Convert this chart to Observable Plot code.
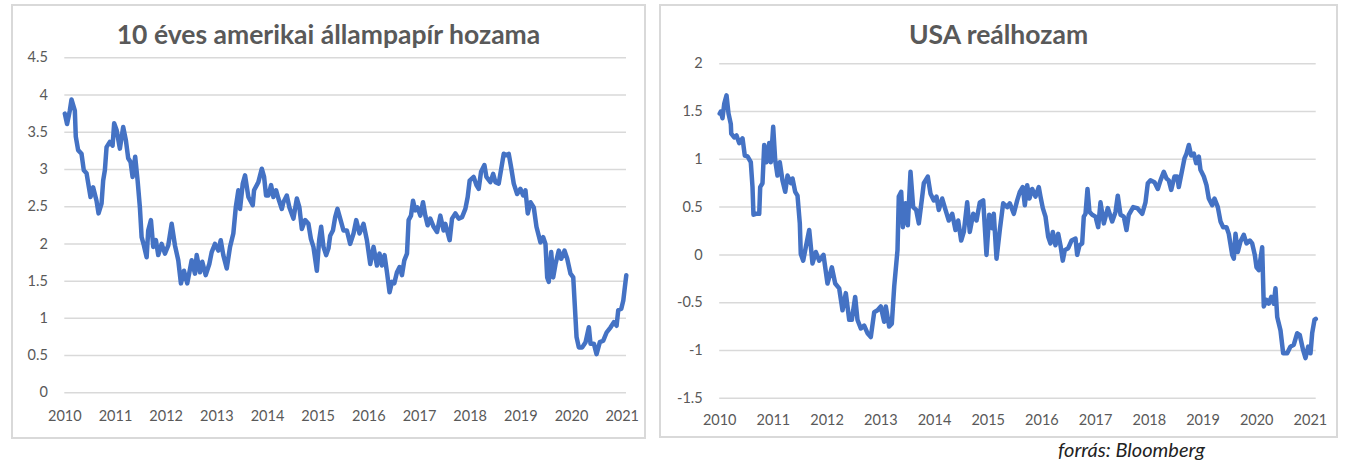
<!DOCTYPE html>
<html><head><meta charset="utf-8">
<script src="https://cdn.jsdelivr.net/npm/d3@7"></script>
<script src="https://cdn.jsdelivr.net/npm/@observablehq/plot@0.6"></script>
<style>
html,body{margin:0;padding:0;background:#fff}
body{width:1345px;height:465px;position:relative;overflow:hidden;font-family:Lato,sans-serif}
.panel{position:absolute;border:2px solid #d9d9d9;box-sizing:border-box;background:#fff}
.chart{position:absolute}
.title{position:absolute;text-align:center;font-weight:bold;color:#595959;font-size:26.5px;line-height:1.2;white-space:nowrap}
.caption{position:absolute;font-style:italic;color:#222;font-size:20px;line-height:1.2;white-space:nowrap}
</style></head>
<body>
<div class="panel" style="left:11px;top:4px;width:635px;height:435px"></div>
<div class="panel" style="left:659px;top:4px;width:679px;height:434px"></div>
<div class="title" style="left:11px;width:635px;top:19px">10 éves amerikai állampapír hozama</div>
<div class="title" style="left:659px;width:679px;top:19px">USA reálhozam</div>
<div id="c1" class="chart" style="left:12px;top:4px"></div>
<div id="c2" class="chart" style="left:660px;top:4px"></div>
<div class="caption" style="left:1058px;top:437px">forrás: Bloomberg</div>
<script>
const yearTicks = [2010,2011,2012,2013,2014,2015,2016,2017,2018,2019,2020,2021];
const nominalTicks = [0,0.5,1,1.5,2,2.5,3,3.5,4,4.5];
const realTicks = [-1.5,-1,-0.5,0,0.5,1,1.5,2];

const nominalYears = [2010.000,2010.045,2010.099,2010.132,2010.198,2010.217,2010.263,2010.330,2010.375,2010.429,2010.508,2010.559,2010.626,2010.666,2010.725,2010.757,2010.791,2010.824,2010.889,2010.943,2010.974,2011.022,2011.087,2011.152,2011.206,2011.251,2011.298,2011.338,2011.389,2011.437,2011.482,2011.516,2011.561,2011.615,2011.646,2011.700,2011.745,2011.798,2011.844,2011.911,2011.976,2012.042,2012.109,2012.174,2012.239,2012.292,2012.352,2012.417,2012.504,2012.569,2012.603,2012.668,2012.713,2012.781,2012.852,2012.899,2012.964,2013.030,2013.077,2013.128,2013.196,2013.261,2013.326,2013.374,2013.425,2013.458,2013.512,2013.557,2013.623,2013.709,2013.735,2013.820,2013.887,2013.933,2013.972,2014.018,2014.071,2014.117,2014.170,2014.215,2014.283,2014.314,2014.381,2014.433,2014.512,2014.579,2014.630,2014.678,2014.743,2014.808,2014.856,2014.907,2014.974,2015.020,2015.059,2015.105,2015.158,2015.204,2015.237,2015.291,2015.336,2015.381,2015.435,2015.500,2015.567,2015.632,2015.698,2015.751,2015.816,2015.895,2015.962,2016.028,2016.093,2016.160,2016.211,2016.259,2016.310,2016.358,2016.409,2016.457,2016.502,2016.555,2016.607,2016.654,2016.700,2016.753,2016.785,2016.832,2016.872,2016.917,2016.962,2017.016,2017.069,2017.115,2017.160,2017.213,2017.279,2017.346,2017.411,2017.476,2017.510,2017.595,2017.642,2017.708,2017.773,2017.840,2017.905,2017.951,2017.990,2018.069,2018.123,2018.168,2018.215,2018.281,2018.320,2018.399,2018.453,2018.498,2018.563,2018.630,2018.662,2018.715,2018.761,2018.808,2018.860,2018.927,2018.992,2019.045,2019.091,2019.136,2019.190,2019.255,2019.308,2019.387,2019.441,2019.486,2019.520,2019.551,2019.599,2019.638,2019.684,2019.749,2019.796,2019.862,2019.915,2019.980,2020.034,2020.065,2020.099,2020.144,2020.211,2020.277,2020.342,2020.375,2020.441,2020.494,2020.559,2020.626,2020.692,2020.771,2020.836,2020.889,2020.922,2020.982,2021.022,2021.053,2021.081];
const nominalValues = [3.75,3.61,3.79,3.94,3.79,3.44,3.26,3.21,2.99,2.95,2.63,2.76,2.58,2.41,2.54,2.85,2.99,3.30,3.37,3.32,3.62,3.53,3.28,3.57,3.39,3.15,3.10,2.90,3.17,2.85,2.49,2.09,1.98,1.82,2.18,2.32,1.96,2.05,1.85,2.00,1.87,1.98,2.27,1.98,1.78,1.47,1.64,1.47,1.78,1.60,1.85,1.62,1.76,1.58,1.73,1.89,2.00,1.91,2.05,1.85,1.67,1.96,2.14,2.49,2.72,2.47,2.81,2.92,2.63,2.52,2.72,2.83,3.01,2.90,2.65,2.65,2.79,2.63,2.72,2.61,2.47,2.56,2.65,2.49,2.34,2.61,2.49,2.20,2.32,2.27,2.07,1.96,1.64,2.05,2.23,1.96,1.85,1.94,2.11,2.18,2.36,2.47,2.34,2.18,2.18,2.00,2.14,2.32,2.14,2.27,2.05,1.73,1.96,1.71,1.87,1.71,1.85,1.62,1.35,1.49,1.47,1.62,1.69,1.58,1.78,1.87,2.32,2.38,2.58,2.45,2.49,2.38,2.56,2.38,2.25,2.34,2.23,2.16,2.38,2.18,2.27,2.05,2.34,2.41,2.34,2.36,2.47,2.63,2.85,2.90,2.79,2.74,2.97,3.06,2.90,2.83,2.94,2.83,2.81,3.08,3.21,3.19,3.21,3.03,2.81,2.67,2.74,2.65,2.72,2.41,2.56,2.49,2.23,2.02,2.09,2.00,1.55,1.49,1.89,1.55,1.73,1.91,1.80,1.91,1.80,1.60,1.55,1.17,0.75,0.61,0.61,0.68,0.88,0.66,0.66,0.52,0.68,0.70,0.81,0.88,0.95,0.90,1.11,1.13,1.24,1.42,1.58];

const realYears = [2010.000,2010.020,2010.052,2010.084,2010.127,2010.164,2010.207,2010.215,2010.270,2010.313,2010.363,2010.425,2010.467,2010.518,2010.579,2010.611,2010.629,2010.672,2010.736,2010.754,2010.797,2010.829,2010.872,2010.922,2010.952,2010.996,2011.034,2011.076,2011.119,2011.169,2011.220,2011.263,2011.324,2011.356,2011.406,2011.449,2011.492,2011.510,2011.555,2011.603,2011.667,2011.728,2011.790,2011.853,2011.933,2012.007,2012.088,2012.151,2012.225,2012.287,2012.348,2012.412,2012.460,2012.523,2012.566,2012.628,2012.691,2012.752,2012.814,2012.877,2012.939,2013.000,2013.063,2013.093,2013.156,2013.205,2013.250,2013.311,2013.335,2013.380,2013.410,2013.460,2013.503,2013.553,2013.603,2013.659,2013.708,2013.771,2013.801,2013.875,2013.926,2013.987,2014.037,2014.080,2014.143,2014.205,2014.266,2014.330,2014.391,2014.441,2014.497,2014.546,2014.609,2014.657,2014.721,2014.782,2014.844,2014.907,2014.968,2015.019,2015.075,2015.104,2015.155,2015.216,2015.279,2015.354,2015.402,2015.477,2015.540,2015.589,2015.644,2015.682,2015.726,2015.769,2015.819,2015.881,2015.942,2015.974,2016.017,2016.067,2016.117,2016.160,2016.203,2016.253,2016.304,2016.346,2016.389,2016.426,2016.490,2016.551,2016.626,2016.657,2016.700,2016.750,2016.780,2016.812,2016.849,2016.886,2016.937,2016.998,2017.048,2017.091,2017.153,2017.227,2017.309,2017.371,2017.413,2017.464,2017.525,2017.575,2017.618,2017.700,2017.775,2017.868,2017.929,2017.972,2018.022,2018.097,2018.158,2018.209,2018.270,2018.320,2018.363,2018.408,2018.469,2018.520,2018.549,2018.613,2018.655,2018.693,2018.736,2018.780,2018.829,2018.873,2018.922,2018.953,2019.015,2019.065,2019.108,2019.171,2019.214,2019.276,2019.326,2019.376,2019.438,2019.480,2019.544,2019.574,2019.605,2019.648,2019.698,2019.760,2019.810,2019.872,2019.916,2019.965,2019.996,2020.039,2020.102,2020.132,2020.183,2020.225,2020.270,2020.318,2020.350,2020.382,2020.443,2020.493,2020.568,2020.629,2020.691,2020.754,2020.803,2020.866,2020.909,2020.959,2021.002,2021.033,2021.076,2021.100];
const realValues = [1.48,1.50,1.43,1.58,1.67,1.48,1.37,1.27,1.23,1.25,1.17,1.22,1.04,1.03,0.97,0.71,0.42,0.43,0.43,0.71,0.75,1.15,0.97,1.17,0.97,1.34,0.99,0.83,0.97,0.78,0.66,0.83,0.75,0.80,0.66,0.62,0.33,0.01,-0.06,0.08,0.26,-0.09,0.03,-0.06,0.00,-0.30,-0.13,-0.30,-0.35,-0.58,-0.40,-0.68,-0.68,-0.44,-0.68,-0.77,-0.74,-0.82,-0.86,-0.60,-0.58,-0.54,-0.70,-0.54,-0.75,-0.72,-0.33,0.05,0.61,0.66,0.29,0.54,0.31,0.87,0.50,0.47,0.33,0.61,0.75,0.82,0.64,0.57,0.61,0.47,0.59,0.47,0.36,0.43,0.26,0.36,0.15,0.24,0.55,0.24,0.43,0.36,0.55,0.57,0.00,0.42,0.28,0.43,-0.04,0.26,0.54,0.50,0.54,0.43,0.57,0.66,0.71,0.52,0.73,0.59,0.69,0.61,0.71,0.61,0.49,0.40,0.19,0.12,0.24,0.10,0.22,0.10,-0.06,0.05,0.07,0.15,0.17,0.00,0.10,0.12,0.40,0.43,0.69,0.45,0.42,0.40,0.29,0.55,0.33,0.49,0.35,0.45,0.62,0.42,0.40,0.26,0.42,0.50,0.49,0.43,0.55,0.75,0.78,0.76,0.69,0.78,0.87,0.80,0.78,0.68,0.82,0.82,0.71,0.89,1.01,1.06,1.15,1.04,1.06,0.96,1.03,0.89,0.82,0.73,0.59,0.52,0.59,0.50,0.35,0.29,0.29,0.22,0.00,-0.04,0.22,0.03,0.14,0.21,0.12,0.15,0.12,0.00,-0.13,-0.16,0.08,-0.54,-0.47,-0.51,-0.44,-0.51,-0.35,-0.65,-0.79,-1.03,-1.03,-0.96,-0.94,-0.82,-0.84,-1.00,-1.08,-0.96,-1.03,-0.82,-0.68,-0.67];

function panel(years, values, opts) {
  const data = years.map((t, i) => ({t, v: values[i]}));
  return Plot.plot({
    width: opts.width, height: opts.height,
    marginLeft: opts.ml, marginRight: opts.mr, marginTop: opts.mt, marginBottom: opts.mb,
    style: {fontFamily: "Lato, sans-serif", fontSize: "14.5px", color: "#595959", background: "transparent", overflow: "visible"},
    x: {domain: opts.xdomain, ticks: yearTicks, tickFormat: d => String(d), tickSize: 0, tickPadding: opts.xpad, label: null},
    y: {domain: opts.ydomain, ticks: opts.yticks, tickFormat: d => String(d), tickSize: 0, tickPadding: 17, label: null},
    marks: [
      Plot.ruleY(opts.yticks, {stroke: "#d9d9d9", strokeWidth: 1.5}),
      Plot.line(data, {x: "t", y: "v", stroke: "#4472C4", strokeWidth: 4.5, strokeLinejoin: "round", strokeLinecap: "round"})
    ]
  });
}

document.getElementById("c1").append(panel(nominalYears, nominalValues, {
  width: 633, height: 435, ml: 52.3, mr: 19, mt: 53.3, mb: 46.7,
  xdomain: [2010, 2021.085], ydomain: [0, 4.5], yticks: nominalTicks, xpad: 18
}));
document.getElementById("c2").append(panel(realYears, realValues, {
  width: 677, height: 434, ml: 59.2, mr: 21.3, mt: 59.3, mb: 40.3,
  xdomain: [2010, 2021.108], ydomain: [-1.5, 2], yticks: realTicks, xpad: 17
}));
</script>
</body></html>
